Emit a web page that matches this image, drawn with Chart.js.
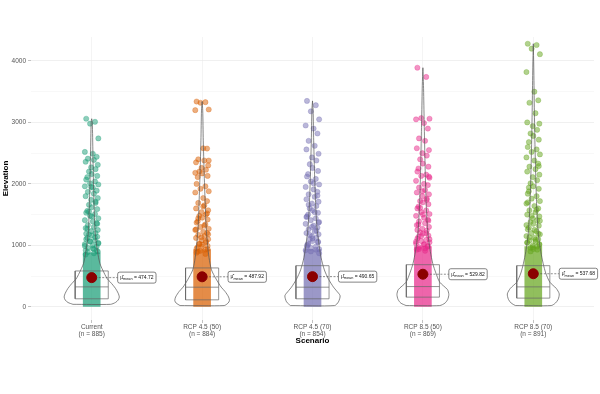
<!DOCTYPE html>
<html>
<head>
<meta charset="utf-8">
<script src="https://cdn.jsdelivr.net/npm/chart.js@4/dist/chart.umd.min.js"></script>
<style>
  html, body { margin: 0; padding: 0; background: #fff; }
  #wrap { width: 600px; height: 394px; }
</style>
</head>
<body>
<div id="wrap"><canvas id="chart"></canvas></div>
<script>
// ---- data ----
const scenarios = ['Current', 'RCP 4.5 (50)', 'RCP 4.5 (70)', 'RCP 8.5 (50)', 'RCP 8.5 (70)'];
const counts = [885, 884, 854, 869, 891];
const means = [474.72, 487.92, 490.65, 529.82, 537.68];
const q1 = [130, 113, 130, 157, 141];
const medians = [324, 319, 319, 329, 324];
const q3 = [583, 632, 669, 685, 669];
const yTicks = [0, 1000, 2000, 3000, 4000];
const colors = ['#1B9E77', '#D95F02', '#7570B3', '#E7298A', '#66A61E'];

// top of the solid band made by overlapping points near the ground
const denseTop = [880, 930, 930, 980, 980];

// individual (sparse) points above the dense band
const ptsCurrent = [3060, 3010, 2980, 2740, 2520, 2490, 2440, 2410, 2390, 2360, 2310, 2270, 2240, 2200, 2160, 2130, 2110, 2070, 2040, 2010, 1990, 1960, 1940, 1890, 1870, 1840, 1800, 1770, 1740, 1690, 1660, 1620, 1590, 1560, 1530, 1510, 1480, 1440, 1410, 1390, 1360, 1330, 1300, 1280, 1250, 1230, 1200, 1180, 1160, 1140, 1120, 1100, 1080, 1060, 1040, 1020, 1000, 980, 960, 940, 920, 900,
  1950, 1710, 1550, 1470, 1350, 1270, 1190, 1130, 1070, 1030, 990, 950, 910, 890, 870, 850];
const ptsRcp4550 = [3340, 3330, 3320, 3210, 3200, 2580, 2575, 2400, 2380, 2350, 2300, 2260, 2230, 2200, 2170, 2130, 2110, 2000, 1960, 1920, 1880, 1860, 1770, 1720, 1690, 1650, 1600, 1570, 1540, 1500, 1480, 1450, 1420, 1390, 1370, 1340, 1300, 1270, 1250, 1220, 1200, 1170, 1150, 1120, 1100, 1080, 1050, 1030, 1010, 990, 970, 950, 930, 910,
  2380, 2180, 1630, 1520, 1440, 1320, 1260, 1180, 1130, 1070, 1020, 980, 940, 900, 880, 860];
const ptsRcp4570 = [3350, 3280, 3180, 3050, 2950, 2900, 2820, 2700, 2620, 2560, 2490, 2430, 2380, 2320, 2260, 2210, 2160, 2120, 2080, 2040, 1990, 1950, 1910, 1870, 1830, 1790, 1750, 1710, 1680, 1640, 1600, 1570, 1530, 1500, 1470, 1440, 1410, 1380, 1350, 1320, 1290, 1260, 1230, 1200, 1180, 1150, 1120, 1100, 1070, 1050, 1030, 1000, 980, 960, 940, 920,
  2010, 1810, 1660, 1540, 1460, 1370, 1300, 1240, 1170, 1110, 1060, 1010, 970, 930, 900, 870];
const ptsRcp8550 = [3890, 3740, 3070, 3060, 3050, 2990, 2900, 2740, 2700, 2580, 2550, 2500, 2460, 2400, 2330, 2280, 2250, 2200, 2150, 2130, 2100, 2050, 2000, 1980, 1940, 1900, 1860, 1830, 1800, 1760, 1720, 1700, 1670, 1630, 1600, 1570, 1540, 1510, 1480, 1450, 1420, 1390, 1360, 1330, 1300, 1270, 1240, 1210, 1190, 1160, 1140, 1110, 1090, 1070, 1050, 1030, 1010, 990, 970, 950, 930,
  2120, 1880, 1740, 1610, 1500, 1400, 1340, 1250, 1200, 1150, 1100, 1060, 1020, 980, 940, 910];
const ptsRcp8570 = [4280, 4260, 4200, 4110, 3820, 3500, 3360, 3320, 3150, 3000, 2980, 2940, 2880, 2820, 2780, 2720, 2680, 2600, 2560, 2520, 2480, 2430, 2380, 2330, 2280, 2240, 2200, 2150, 2110, 2060, 2010, 1960, 1920, 1880, 1840, 1800, 1760, 1720, 1680, 1640, 1600, 1570, 1540, 1500, 1470, 1440, 1410, 1380, 1350, 1320, 1290, 1260, 1230, 1200, 1180, 1150, 1120, 1100, 1080, 1060, 1040, 1020, 1000, 980, 960, 940,
  2290, 1940, 1700, 1580, 1480, 1400, 1330, 1250, 1190, 1130, 1090, 1050, 1010, 970, 930, 900];
const points = [ptsCurrent, ptsRcp4550, ptsRcp4570, ptsRcp8550, ptsRcp8570];

// violin outlines: elevation and relative half-width (density)
const vioElev = [
  [40, 70, 110, 160, 220, 300, 400, 450, 550, 700, 900, 1200, 1600, 2000, 2500, 3000, 3060],
  [20, 60, 100, 160, 250, 320, 450, 600, 800, 1000, 1300, 1700, 2200, 2700, 3200, 3340],
  [20, 80, 180, 260, 320, 450, 600, 800, 1000, 1300, 1700, 2200, 2700, 3200, 3350],
  [20, 60, 120, 200, 280, 400, 550, 700, 900, 1200, 1600, 2100, 2600, 3100, 3600, 3890],
  [20, 60, 120, 210, 300, 400, 550, 700, 900, 1200, 1600, 2100, 2700, 3300, 3900, 4280]
];
const vioDens = [
  [0.68, 0.86, 0.96, 1, 0.96, 0.86, 0.68, 0.57, 0.45, 0.3, 0.21, 0.125, 0.09, 0.064, 0.043, 0.021, 0],
  [0.8, 0.94, 0.99, 0.96, 0.83, 0.69, 0.51, 0.34, 0.25, 0.2, 0.145, 0.11, 0.072, 0.043, 0.022, 0],
  [0.8, 0.94, 1, 0.87, 0.76, 0.58, 0.43, 0.31, 0.24, 0.16, 0.11, 0.072, 0.043, 0.022, 0],
  [0.61, 0.8, 0.9, 0.94, 0.89, 0.61, 0.47, 0.36, 0.27, 0.18, 0.127, 0.09, 0.065, 0.043, 0.022, 0],
  [0.65, 0.8, 0.9, 0.94, 0.83, 0.6, 0.45, 0.36, 0.27, 0.18, 0.127, 0.09, 0.058, 0.036, 0.018, 0]
];

// ---- drawing settings ----
const VIOLIN_W = 0.25;   // half-width in category units
const BOX_W = 0.15;
const LABEL_DX = 0.235;
const jitter = [-0.05, 0.03, -0.015, 0.06, -0.062, 0.01, 0.045, -0.035, 0.02, -0.055, 0.055, -0.005, 0.035, -0.025, 0.0, 0.05, -0.04];
const FONT = '"Liberation Sans", Arial, sans-serif';

function rgba(hex, a) {
  const n = parseInt(hex.slice(1), 16);
  return `rgba(${n >> 16}, ${(n >> 8) & 255}, ${n & 255}, ${a})`;
}

const datasets = [];

// dense band of overlapping points
datasets.push({
  type: 'bar',
  data: scenarios.map((s, i) => ({ x: i, y: [0, denseTop[i]] })),
  backgroundColor: colors.map(c => rgba(c, 0.72)),
  barThickness: 17,
  grouped: false,
  order: 10
});

// jittered points
points.forEach((vals, i) => {
  datasets.push({
    type: 'scatter',
    data: vals.map((v, k) => ({ x: i + jitter[k % jitter.length], y: v })),
    backgroundColor: rgba(colors[i], 0.5),
    borderColor: rgba(colors[i], 0.6),
    borderWidth: 0.5,
    pointRadius: 2.6,
    order: 9
  });
});

// violins
vioElev.forEach((el, i) => {
  const right = el.map((e, k) => ({ x: i + vioDens[i][k] * VIOLIN_W, y: e }));
  const left = el.map((e, k) => ({ x: i - vioDens[i][k] * VIOLIN_W, y: e })).reverse();
  datasets.push({
    type: 'scatter',
    showLine: true,
    data: [left[left.length - 1], ...right, ...left],
    borderColor: '#555',
    borderWidth: 0.7,
    pointRadius: 0,
    tension: 0.25,
    fill: false,
    order: 5
  });
});

// boxes + medians
scenarios.forEach((s, i) => {
  datasets.push({
    type: 'scatter',
    showLine: true,
    data: [
      { x: i - BOX_W, y: q1[i] }, { x: i + BOX_W, y: q1[i] },
      { x: i + BOX_W, y: q3[i] }, { x: i - BOX_W, y: q3[i] },
      { x: i - BOX_W, y: q1[i] }, { x: i, y: null },
      { x: i - BOX_W, y: medians[i] }, { x: i + BOX_W, y: medians[i] }
    ],
    spanGaps: false,
    borderColor: '#666',
    borderWidth: 0.7,
    pointRadius: 0,
    order: 4
  });
  // dashed connector to the label
  datasets.push({
    type: 'scatter',
    showLine: true,
    data: [{ x: i, y: means[i] }, { x: i + LABEL_DX, y: means[i] }],
    borderColor: '#444',
    borderWidth: 0.6,
    borderDash: [2, 1.5],
    pointRadius: 0,
    order: 3
  });
});

// means
datasets.push({
  type: 'scatter',
  data: means.map((m, i) => ({ x: i, y: m })),
  backgroundColor: '#8B0000',
  borderColor: '#8B0000',
  pointRadius: 5,
  order: 1
});

const meanLabels = {
  id: 'meanLabels',
  afterDatasetsDraw(chart) {
    const { ctx, scales: { x, y } } = chart;
    ctx.save();
    means.forEach((m, i) => {
      const left = x.getPixelForValue(i + LABEL_DX);
      const cy = y.getPixelForValue(m);
      const big = '5px ' + FONT;
      const small = '3.8px ' + FONT;
      const val = ' = ' + m.toFixed(2);
      ctx.font = big;
      const wMu = ctx.measureText('μ̂').width;
      const wVal = ctx.measureText(val).width;
      ctx.font = small;
      const wSub = ctx.measureText('mean').width;
      const w = wMu + wSub + wVal + 5;
      const h = 11;
      ctx.beginPath();
      ctx.roundRect(left, cy - h / 2, w, h, 2);
      ctx.fillStyle = '#fff';
      ctx.fill();
      ctx.strokeStyle = '#333';
      ctx.lineWidth = 0.6;
      ctx.stroke();
      ctx.fillStyle = '#111';
      ctx.textBaseline = 'middle';
      ctx.font = big;
      let tx = left + 2.5;
      ctx.fillText('μ̂', tx, cy);
      tx += wMu;
      ctx.font = small;
      ctx.fillText('mean', tx, cy + 1.8);
      tx += wSub;
      ctx.font = big;
      ctx.fillText(val, tx, cy);
    });
    ctx.restore();
  }
};

new Chart(document.getElementById('chart'), {
  type: 'scatter',
  data: { datasets },
  plugins: [meanLabels],
  options: {
    responsive: true,
    maintainAspectRatio: false,
    animation: false,
    events: [],
    layout: { padding: { top: 37, right: 5, left: 0, bottom: 0 } },
    plugins: {
      legend: { display: false },
      tooltip: { enabled: false }
    },
    scales: {
      x: {
        type: 'linear',
        min: -0.55,
        max: 4.55,
        offset: false,
        afterBuildTicks: s => { s.ticks = scenarios.map((c, i) => ({ value: i })); },
        afterFit: s => { s.height = 74; },
        border: { display: false },
        grid: { offset: false, color: '#ececec', lineWidth: 0.6, tickLength: 3, tickColor: '#999' },
        ticks: {
          autoSkip: false,
          maxRotation: 0,
          padding: 0,
          color: '#555',
          font: { size: 6.5, family: FONT },
          callback: v => [scenarios[v], '(n = ' + counts[v] + ')']
        },
        title: {
          display: true,
          text: 'Scenario',
          color: '#000',
          font: { size: 8, weight: 'bold', family: FONT },
          padding: { top: 0, bottom: 48 }
        }
      },
      y: {
        min: -215,
        max: 4390,
        afterBuildTicks: s => {
          const t = [];
          yTicks.forEach(v => { t.push({ value: v }); if (v + 500 < 4390) t.push({ value: v + 500 }); });
          s.ticks = t;
        },
        afterFit: s => { s.width = 31; },
        border: { display: false },
        grid: {
          color: c => (c.tick && c.tick.value % 1000 === 0 ? '#e6e6e6' : '#f3f3f3'),
          lineWidth: 0.6,
          tickLength: 3,
          tickColor: c => (c.tick && c.tick.value % 1000 === 0 ? '#999' : 'rgba(0,0,0,0)')
        },
        ticks: {
          padding: 2,
          color: '#555',
          font: { size: 6.5, family: FONT },
          callback: v => (v % 1000 === 0 ? v : '')
        },
        title: {
          display: true,
          text: 'Elevation',
          color: '#000',
          font: { size: 8, weight: 'bold', family: FONT },
          padding: { top: 1, bottom: 0 }
        }
      }
    }
  }
});
</script>
</body>
</html>
